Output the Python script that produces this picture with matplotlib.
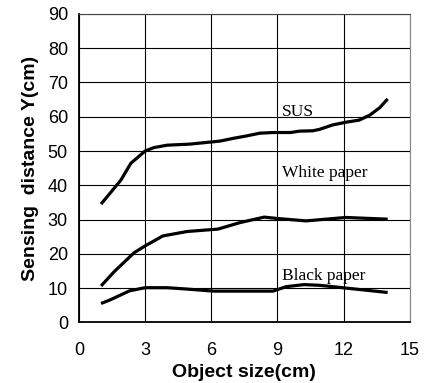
import matplotlib
matplotlib.use("Agg")
from matplotlib import pyplot

# values
sus_x = [1.0, 1.9, 2.35, 3.0, 3.4, 4.0, 5.0, 6.1, 6.4, 7.0, 7.6, 8.2, 8.8, 9.6, 10.0, 10.6, 10.9, 11.5, 12.1, 12.7, 13.2, 13.65, 14.0]
sus_y = [34.5, 41.5, 46.4, 50.0, 51.0, 51.7, 52.0, 52.7, 52.9, 53.7, 54.4, 55.2, 55.4, 55.4, 55.8, 55.9, 56.3, 57.6, 58.4, 59.0, 60.5, 62.7, 65.2]

white_x = [1.0, 1.6, 2.5, 3.0, 3.8, 4.9, 6.3, 7.3, 8.4, 9.0, 10.3, 12.1, 14.0]
white_y = [10.6, 14.8, 20.3, 22.3, 25.2, 26.5, 27.2, 29.1, 30.7, 30.3, 29.6, 30.6, 30.1]

black_x = [1.0, 1.4, 2.3, 3.0, 4.0, 4.9, 6.1, 8.8, 9.4, 10.2, 10.9, 12.1, 14.0]
black_y = [5.5, 6.5, 9.2, 10.1, 10.1, 9.7, 9.1, 9.1, 10.4, 11.0, 10.8, 10.0, 8.7]

labels = ["SUS", "White paper", "Black paper"]
label_y = [61.5, 43.5, 13.5]

x_ticks = [0, 3, 6, 9, 12, 15]
y_ticks = [0, 10, 20, 30, 40, 50, 60, 70, 80, 90]

fig = pyplot.figure(figsize=(4.34, 3.83), dpi=100)
ax = fig.add_axes([0.182, 0.1585, 0.762, 0.805])

for xs, ys in [(sus_x, sus_y), (white_x, white_y), (black_x, black_y)]:
    ax.plot(xs, ys, color='black', linewidth=2.3, solid_capstyle='butt')

for text, y in zip(labels, label_y):
    ax.text(9.2, y, text, family='Liberation Serif', fontsize=12.5, va='center', ha='left')

ax.set_xlim(0, 15)
ax.set_ylim(0, 90)
ax.set_xticks(x_ticks)
ax.set_yticks(y_ticks)
ax.grid(True, color='black', linewidth=0.8)
ax.set_axisbelow(True)

ax.tick_params(length=0, labelsize=13)
ax.tick_params(axis='x', pad=14)
ax.tick_params(axis='y', pad=8)
for label in ax.get_xticklabels() + ax.get_yticklabels():
    label.set_family('Liberation Sans')

ax.spines['left'].set_linewidth(1.3)
ax.spines['bottom'].set_linewidth(1.3)
ax.spines['right'].set_color('#888888')
ax.spines['top'].set_color('#444444')

ax.set_xlabel("Object size(cm)", family='Liberation Sans', fontweight='bold', fontsize=14, labelpad=4)
ax.set_ylabel("Sensing  distance Y(cm)", family='Liberation Sans', fontweight='bold', fontsize=14, labelpad=6)

fig.savefig("out.png", dpi=100)
